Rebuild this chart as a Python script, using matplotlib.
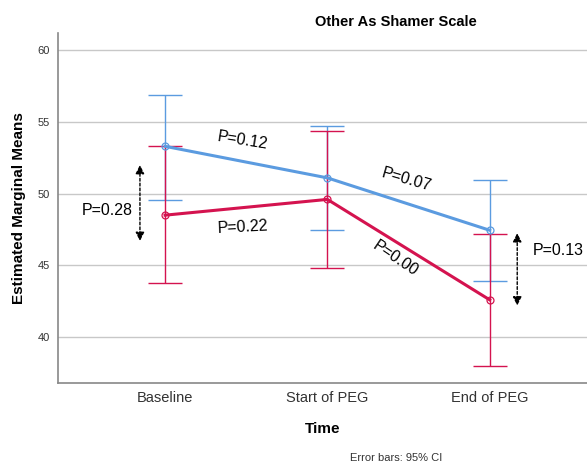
import matplotlib.pyplot as plt
import numpy as np

plt.rcParams['font.family'] = ['Liberation Sans', 'DejaVu Sans']

times = ['Baseline', 'Start of PEG', 'End of PEG']
blue_mean = [53.3, 51.1, 47.45]
blue_low = [49.55, 47.45, 43.9]
blue_high = [56.9, 54.7, 50.95]
red_mean = [48.5, 49.6, 42.6]
red_low = [43.8, 44.8, 38.0]
red_high = [53.3, 54.35, 47.2]

blue = '#5b9be0'
red = '#d4134f'

fig = plt.figure(figsize=(5.87, 4.67), dpi=100)
ax = fig.add_axes([58 / 587, 1 - 383 / 467, 1 - 58 / 587, (383 - 33) / 467])

x = np.arange(len(times))


def draw(mean, low, high, color):
	mean = np.array(mean)
	yerr = [mean - np.array(low), np.array(high) - mean]
	ax.errorbar(x, mean, yerr=yerr, fmt='none', ecolor=color, elinewidth=1.0,
				capsize=12.5, capthick=1.0, zorder=3)
	ax.plot(x, mean, color=color, linewidth=2.2, zorder=4)
	ax.plot(x, mean, 'o', markersize=5, markerfacecolor='none',
			markeredgecolor=color, markeredgewidth=0.9, zorder=5)


draw(blue_mean, blue_low, blue_high, blue)
draw(red_mean, red_low, red_high, red)

ax.set_xlim(-0.66, 2.6)
ax.set_ylim(36.8, 61.2)
ax.set_yticks([40, 45, 50, 55, 60])
ax.set_xticks(x)
ax.set_xticklabels(times, fontsize=10.5, color='#333333')
ax.tick_params(axis='y', labelsize=8, colors='#333333', length=0, pad=6)
ax.tick_params(axis='x', length=0, pad=6)
ax.grid(axis='y', color='#c8c8c8', linewidth=1)
ax.set_axisbelow(True)
for s in ['top', 'right']:
	ax.spines[s].set_visible(False)
for s in ['left', 'bottom']:
	ax.spines[s].set_color('#888888')
	ax.spines[s].set_linewidth(1.2)

ax.set_ylabel('Estimated Marginal Means', fontsize=11, fontweight='bold', labelpad=8)
ax.set_xlabel('Time', fontsize=11, fontweight='bold', labelpad=12)
fig.text(396 / 587, 1 - 22 / 467, 'Other As Shamer Scale', fontsize=10.5,
		 fontweight='bold', ha='center', va='center')
fig.text(396 / 587, 1 - 458 / 467, 'Error bars: 95% CI', fontsize=8,
		 ha='center', va='center', color='#333333')

# p-value labels
ax.text(0.48, 53.7, 'P=0.12', fontsize=11.5, rotation=-9, ha='center', va='center')
ax.text(1.49, 50.95, 'P=0.07', fontsize=11.5, rotation=-16, ha='center', va='center')
ax.text(0.48, 47.65, 'P=0.22', fontsize=11.5, rotation=3, ha='center', va='center')
ax.text(1.42, 45.5, 'P=0.00', fontsize=11.5, rotation=-34, ha='center', va='center')
ax.text(-0.355, 48.8, 'P=0.28', fontsize=11.5, ha='center', va='center')
ax.text(2.42, 46.05, 'P=0.13', fontsize=11.5, ha='center', va='center')

arrow = dict(arrowstyle='<|-|>', linestyle=(0, (2, 1.5)), color='black',
			 lw=1, mutation_scale=13, shrinkA=0, shrinkB=0)
ax.annotate('', xy=(-0.155, 52.0), xytext=(-0.155, 46.7), arrowprops=arrow)
ax.annotate('', xy=(2.17, 47.25), xytext=(2.17, 42.2), arrowprops=arrow)

fig.savefig('out.png', dpi=100)
